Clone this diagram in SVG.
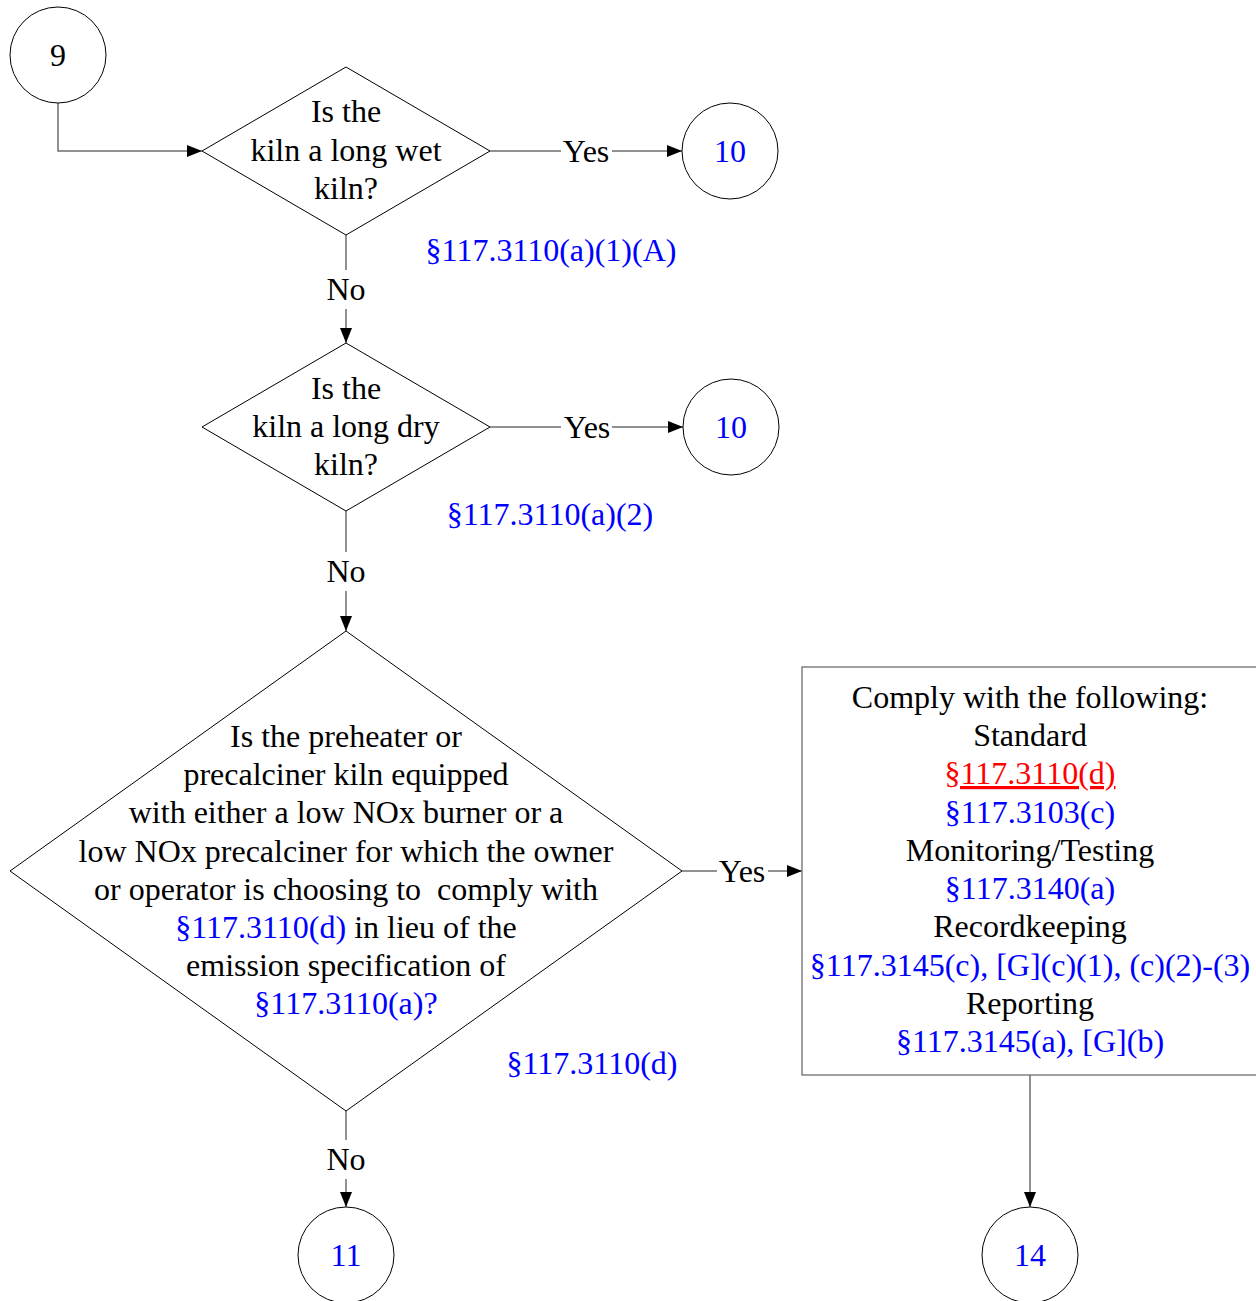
<svg xmlns="http://www.w3.org/2000/svg" width="1256" height="1301" viewBox="0 0 1256 1301">
<style>
text{font-family:"Liberation Serif","Times New Roman",serif;font-size:32px;fill:#000;text-anchor:middle}
.b{fill:#0000ff}
.r{fill:#ff0000;text-decoration:underline}
.shape{fill:#fff;stroke:#000;stroke-width:1}
.box{fill:#fff;stroke:#6d6d6d;stroke-width:1.3}
.conn{fill:none;stroke:#6d6d6d;stroke-width:1.5}
</style>
<defs>
<marker id="arr" markerWidth="15" markerHeight="12" refX="15" refY="6" orient="auto" markerUnits="userSpaceOnUse">
<path d="M0,0 L15,6 L0,12 Z" fill="#000"/>
</marker>
</defs>
<rect width="1256" height="1301" fill="#fff"/>
<g id="connectors">
<path class="conn" d="M58,103 V151 H202" marker-end="url(#arr)"/>
<path class="conn" d="M490,151 H561"/>
<path class="conn" d="M612,151 H682" marker-end="url(#arr)"/>
<path class="conn" d="M346,235 V270"/>
<path class="conn" d="M346,309 V343" marker-end="url(#arr)"/>
<path class="conn" d="M490,427 H561"/>
<path class="conn" d="M612,427 H683" marker-end="url(#arr)"/>
<path class="conn" d="M346,511 V552"/>
<path class="conn" d="M346,591 V631" marker-end="url(#arr)"/>
<path class="conn" d="M682,871 H717"/>
<path class="conn" d="M768,871 H802" marker-end="url(#arr)"/>
<path class="conn" d="M346,1111 V1140"/>
<path class="conn" d="M346,1179 V1207" marker-end="url(#arr)"/>
<path class="conn" d="M1030,1075 V1207" marker-end="url(#arr)"/>
<text x="586" y="162">Yes</text>
<text x="587" y="438">Yes</text>
<text x="742" y="882">Yes</text>
<text x="346" y="300">No</text>
<text x="346" y="582">No</text>
<text x="346" y="1170">No</text>
</g>
<g id="n9">
<circle class="shape" cx="58" cy="55" r="48"/>
<text x="58" y="66">9</text>
</g>
<g id="d1">
<polygon class="shape" points="346,67 490,151 346,235 202,151"/>
<text x="346" y="122">Is the</text>
<text x="346" y="161">kiln a long wet</text>
<text x="346" y="199">kiln?</text>
</g>
<g id="n10a">
<circle class="shape" cx="730" cy="151" r="48"/>
<text class="b" x="730" y="162">10</text>
</g>
<text class="b" x="551" y="261">§117.3110(a)(1)(A)</text>
<g id="d2">
<polygon class="shape" points="346,343 490,427 346,511 202,427"/>
<text x="346" y="399">Is the</text>
<text x="346" y="437">kiln a long dry</text>
<text x="346" y="475">kiln?</text>
</g>
<g id="n10b">
<circle class="shape" cx="731" cy="427" r="48"/>
<text class="b" x="731" y="438">10</text>
</g>
<text class="b" x="550" y="525">§117.3110(a)(2)</text>
<g id="d3">
<polygon class="shape" points="346,631 682,871 346,1111 10,871"/>
<text x="346" y="747">Is the preheater or</text>
<text x="346" y="785">precalciner kiln equipped</text>
<text x="346" y="823">with either a low NOx burner or a</text>
<text x="346" y="862">low NOx precalciner for which the owner</text>
<text x="346" y="900" xml:space="preserve">or operator is choosing to  comply with</text>
<text x="346" y="938"><tspan class="b">§117.3110(d)</tspan> in lieu of the</text>
<text x="346" y="976">emission specification of</text>
<text class="b" x="346" y="1014">§117.3110(a)?</text>
</g>
<text class="b" x="592" y="1074">§117.3110(d)</text>
<g id="box">
<rect class="box" x="802" y="667" width="458" height="408"/>
<text x="1030" y="708">Comply with the following:</text>
<text x="1030" y="746">Standard</text>
<text class="r" x="1030" y="784">§117.3110(d)</text>
<text class="b" x="1030" y="823">§117.3103(c)</text>
<text x="1030" y="861">Monitoring/Testing</text>
<text class="b" x="1030" y="899">§117.3140(a)</text>
<text x="1030" y="937">Recordkeeping</text>
<text class="b" x="1030" y="976">§117.3145(c), [G](c)(1), (c)(2)-(3)</text>
<text x="1030" y="1014">Reporting</text>
<text class="b" x="1030" y="1052">§117.3145(a), [G](b)</text>
</g>
<g id="n11">
<circle class="shape" cx="346" cy="1255" r="48"/>
<text class="b" x="346" y="1266">11</text>
</g>
<g id="n14">
<circle class="shape" cx="1030" cy="1255" r="48"/>
<text class="b" x="1030" y="1266">14</text>
</g>
</svg>
